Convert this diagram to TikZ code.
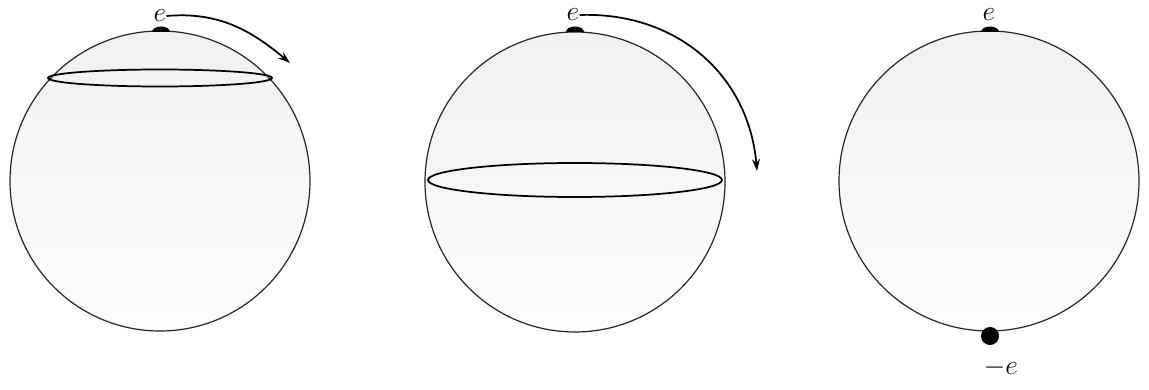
\documentclass[tikz,border=0pt]{standalone}
\usetikzlibrary{arrows.meta}
\begin{document}
\begin{tikzpicture}[x=0.75pt,y=0.75pt,
  sphere/.style={draw=black!85,line width=0.9pt,top color=gray!11,bottom color=gray!2},
  ring/.style={draw=black,line width=1.3pt},
  motion/.style={draw=black,line width=1.3pt,-{Stealth[length=9pt,width=6pt]}},
  lab/.style={inner sep=0pt,font=\fontsize{22}{22}\selectfont}]
\useasboundingbox (0,0) rectangle (1149,389);
% spheres
\path[sphere] (160,208) circle[radius=150];
\path[sphere] (575,207) circle[radius=150];
\path[sphere] (989,208) circle[radius=150];
% rings
\draw[ring] (160,311) ellipse[x radius=112,y radius=8.5];
\draw[ring] (575,209) ellipse[x radius=147,y radius=17];
% charges
\fill[black] (152,357) arc[start angle=180,end angle=0,x radius=9,y radius=5.5] -- cycle;
\fill[black] (566,357) arc[start angle=180,end angle=0,x radius=9,y radius=5.5] -- cycle;
\fill[black] (981,357) arc[start angle=180,end angle=0,x radius=9,y radius=5.5] -- cycle;
\fill[black] (990,53) circle[radius=9];
% labels
\node[lab] (e1) at (160,373) {$e$};
\node[lab] (e2) at (573,374) {$e$};
\node[lab] (e3) at (989,374) {$e$};
\node[lab] (me) at (1001,21) {$-e$};
% arrows
\coordinate (t1) at (290,326);
\coordinate (t2) at (757,218);
\draw[motion] (e1.east) to[out=5,in=140] (t1);
\draw[motion] (e2.east) to[out=2,in=95,looseness=1.05] (t2);
\end{tikzpicture}
\end{document}
